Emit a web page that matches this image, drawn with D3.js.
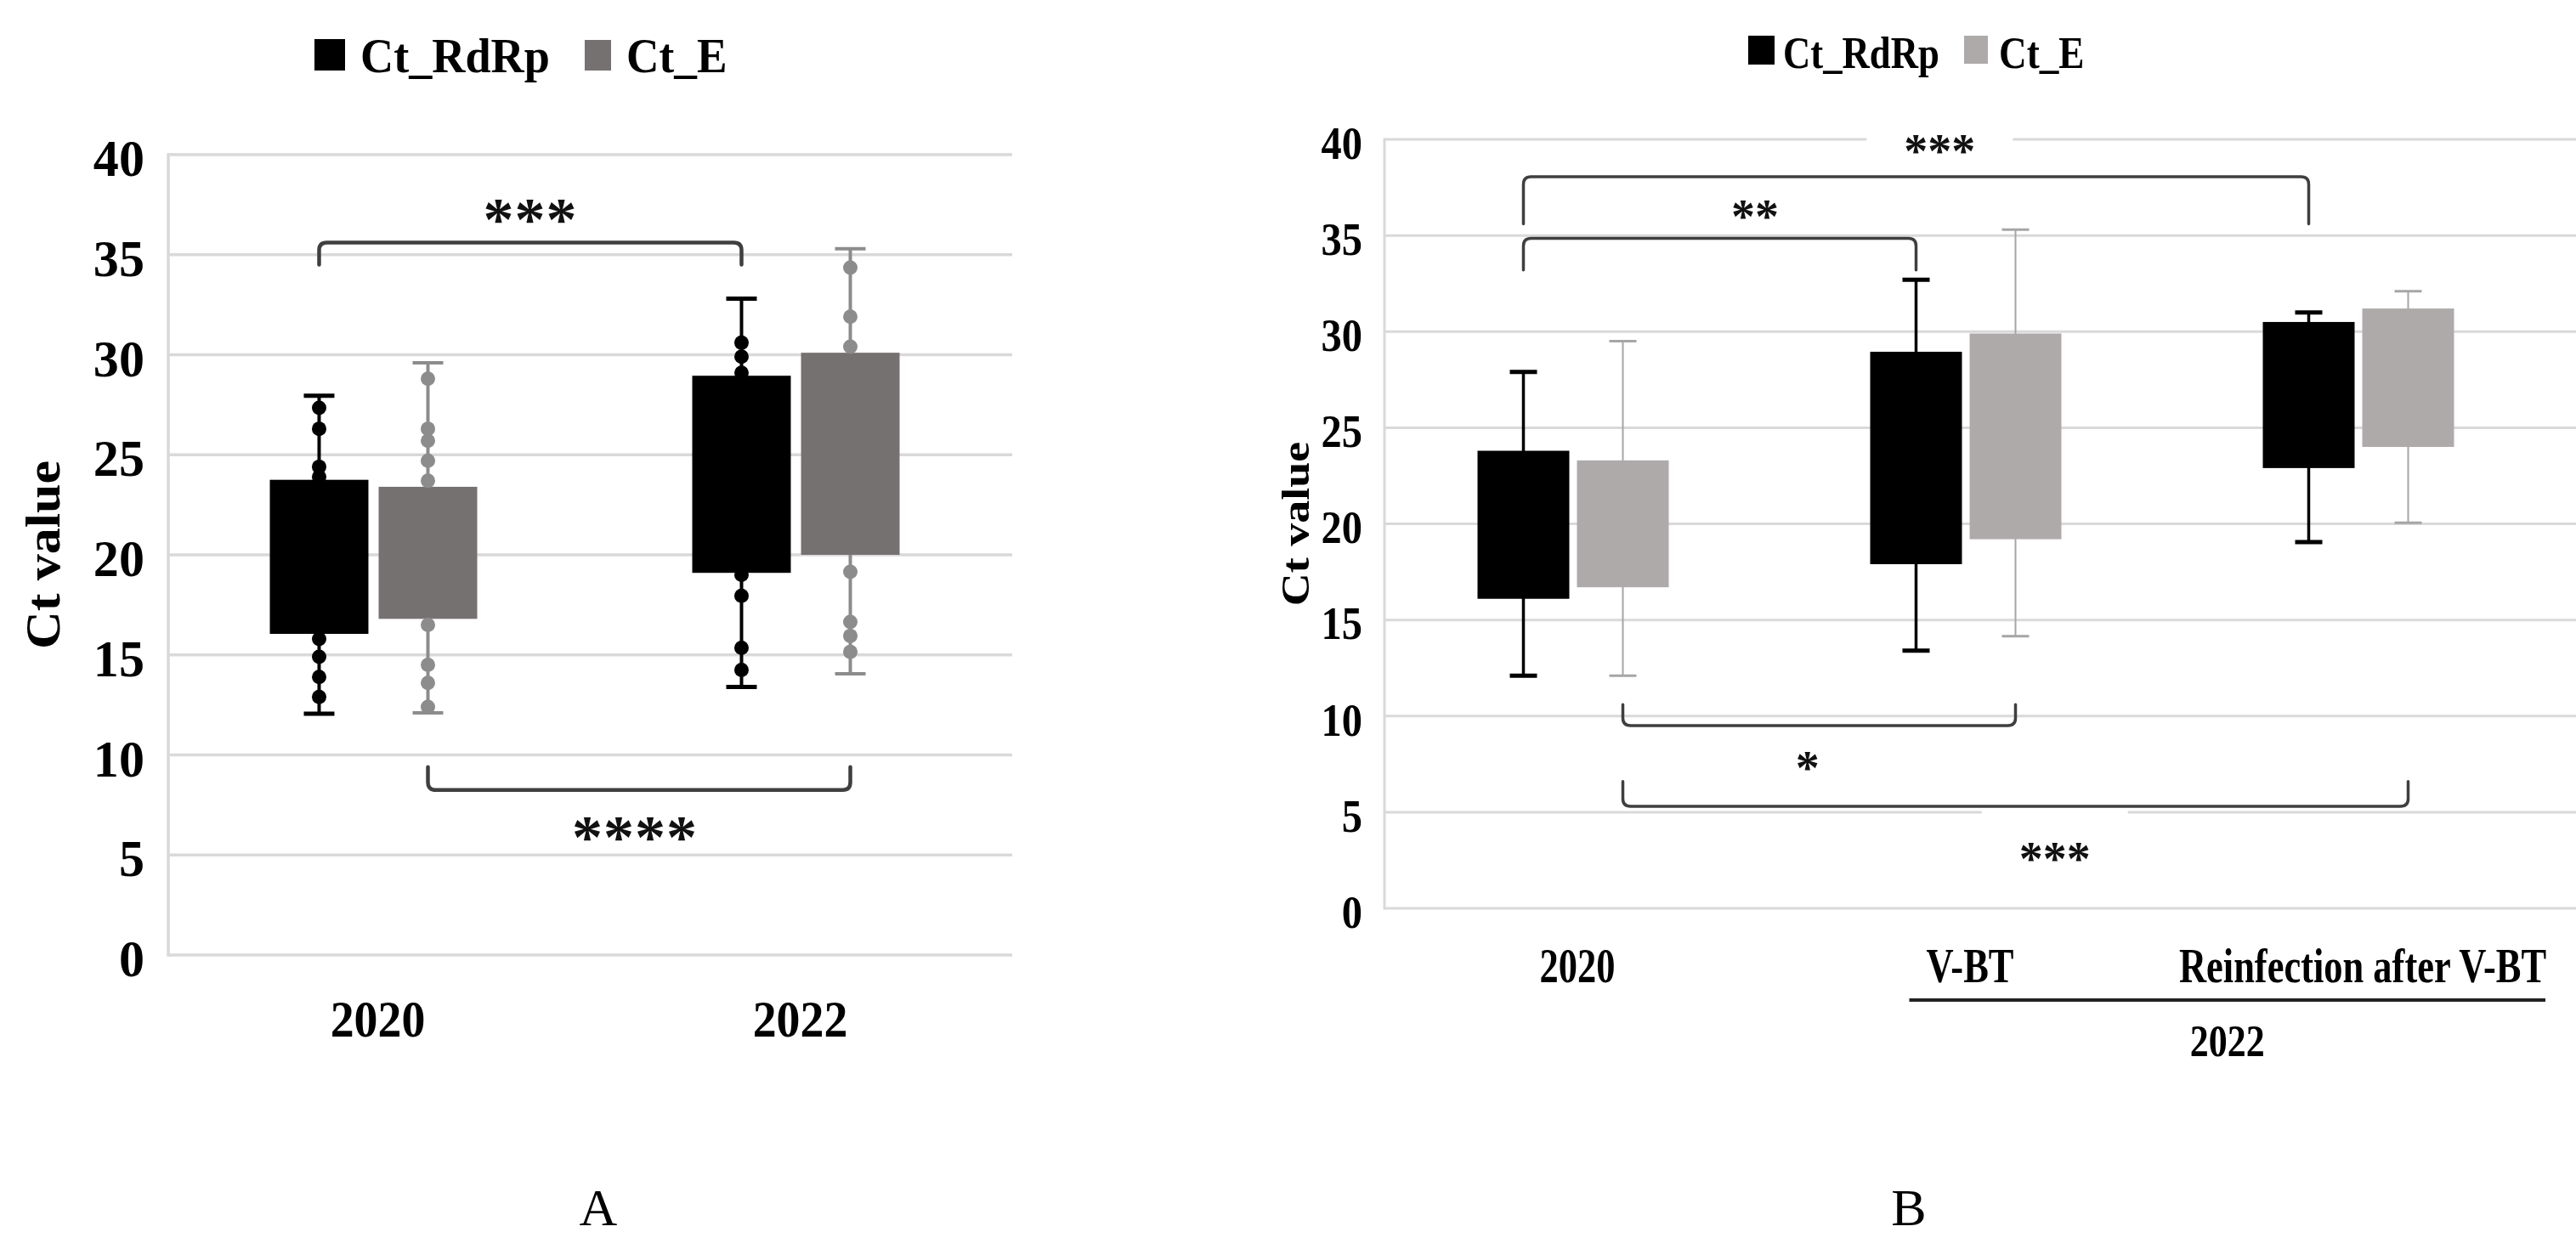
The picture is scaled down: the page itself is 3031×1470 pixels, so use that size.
<!DOCTYPE html>
<html><head><meta charset="utf-8">
<script src="https://cdn.jsdelivr.net/npm/d3@7/dist/d3.min.js"></script>
<style>html,body{margin:0;padding:0;background:#fff;} svg{display:block;}</style>
</head><body>
<svg id="chart" width="3031" height="1470"></svg>
<script>
// ---------------- DATA ----------------
const seriesNames = ["Ct_RdRp", "Ct_E"];
const categoriesA = ["2020", "2022"];
const categoriesB = ["2020", "V-BT", "Reinfection after V-BT"];
const groupLabelB = "2022";
const yTickValues = [0, 5, 10, 15, 20, 25, 30, 35, 40];
const panelLabels = ["A", "B"];

// Panel A : whisker min / lower box edge / upper box edge / whisker max
const boxA_RdRp = [
  {min: 12.06, q1: 16.05, q3: 23.75, max: 27.95},
  {min: 13.4,  q1: 19.1,  q3: 28.95, max: 32.8}
];
const boxA_E = [
  {min: 12.1,  q1: 16.8,  q3: 23.4,  max: 29.6},
  {min: 14.05, q1: 20.0,  q3: 30.1,  max: 35.3}
];
const dotsA_RdRp = [
  [27.35, 26.3, 24.4, 23.9, 15.8, 14.9, 13.9, 12.9],
  [30.6, 29.9, 29.1, 19.0, 17.95, 15.35, 14.25]
];
const dotsA_E = [
  [28.8, 26.3, 25.7, 24.7, 23.7, 16.5, 14.5, 13.6, 12.4],
  [34.35, 31.9, 30.4, 19.15, 16.65, 15.95, 15.15]
];

// Panel B
const boxB_RdRp = [
  {min: 12.1,  q1: 16.1, q3: 23.8,  max: 27.9},
  {min: 13.4,  q1: 17.9, q3: 28.95, max: 32.7},
  {min: 19.05, q1: 22.9, q3: 30.5,  max: 31.0}
];
const boxB_E = [
  {min: 12.1,  q1: 16.7, q3: 23.3, max: 29.5},
  {min: 14.15, q1: 19.2, q3: 29.9, max: 35.3},
  {min: 20.05, q1: 24.0, q3: 31.2, max: 32.1}
];

// significance brackets (values in Ct units)
const bracketsA = [
  {a: ["2020", "Ct_RdRp"], b: ["2022", "Ct_RdRp"], bar: 35.6, tip: 34.5, label: "***",  labelAt: 37.2, frac: 0.5},
  {a: ["2020", "Ct_E"],    b: ["2022", "Ct_E"],    bar: 8.25, tip: 9.4,  label: "****", labelAt: 6.3,  frac: 0.49}
];
const bracketsB = [
  {a: ["2020", "Ct_RdRp"], b: ["Reinfection after V-BT", "Ct_RdRp"], bar: 38.05, tip: 35.6, label: "***", labelAt: 39.7, frac: 0.53, knockout: true},
  {a: ["2020", "Ct_RdRp"], b: ["V-BT", "Ct_RdRp"], bar: 34.85, tip: 33.2, label: "**",  labelAt: 36.3, frac: 0.59},
  {a: ["2020", "Ct_E"],    b: ["V-BT", "Ct_E"],    bar: 9.5,   tip: 10.6, label: "*",   labelAt: 7.6,  frac: 0.47},
  {a: ["2020", "Ct_E"],    b: ["Reinfection after V-BT", "Ct_E"], bar: 5.3, tip: 6.6, label: "***", labelAt: 2.9, frac: 0.55, knockout: true}
];

// ---------------- DRAWING ----------------
const SERIF = "'Liberation Serif','Times New Roman',Times,serif";
const svg = d3.select("#chart");
svg.append("rect").attr("width", 3031).attr("height", 1470).attr("fill", "#fff");

function txt(g, x, y, s, o) {
  const t = g.append("text")
    .attr("transform", `translate(${x},${y}) scale(${o.sx || 1},1)` + (o.rot ? ` rotate(${o.rot})` : ""))
    .attr("text-anchor", o.anchor || "start")
    .style("font-family", SERIF)
    .style("font-weight", o.weight || "bold")
    .style("font-size", o.size + "px")
    .attr("fill", o.fill || "#000")
    .text(s);
  if (o.ls) t.style("letter-spacing", o.ls + "px");
  return t;
}

function drawPanel(c) {
  const g = svg.append("g");
  const y = d3.scaleLinear().domain([0, 40]).range([c.y0, c.y40]);
  const x0 = d3.scaleBand().domain(c.categories).range(c.xRange);
  const x1 = d3.scaleBand().domain(seriesNames).range([-c.groupW / 2, c.groupW / 2]).paddingInner(c.pad);
  const gc = cat => x0(cat) + x0.bandwidth() / 2;
  const cx = (cat, s) => gc(cat) + x1(s) + x1.bandwidth() / 2;

  // gridlines
  g.append("g").selectAll("line").data(yTickValues).join("line")
    .attr("x1", c.plotL).attr("x2", c.plotR)
    .attr("y1", d => y(d)).attr("y2", d => y(d))
    .attr("stroke", "#D9D9D9").attr("stroke-width", c.gridW);
  g.append("line").attr("x1", c.plotL).attr("x2", c.plotL)
    .attr("y1", y(0) + c.gridW / 2).attr("y2", y(40) - c.gridW / 2)
    .attr("stroke", "#D9D9D9").attr("stroke-width", c.gridW);

  // y axis labels
  const ax = g.append("g").attr("transform", `translate(${c.plotL},0)`)
    .call(d3.axisLeft(y).tickValues(yTickValues).tickSize(0).tickPadding(0).tickFormat(d3.format("d")));
  ax.select(".domain").remove();
  ax.selectAll("text")
    .attr("x", 0).attr("dy", "0.35em")
    .attr("transform", `translate(${-c.tickPad},${c.tickDy}) scale(${c.tickSx},1)`)
    .attr("text-anchor", "end").attr("fill", "#000")
    .style("font-family", SERIF).style("font-weight", "bold").style("font-size", c.tickSize + "px");

  // y title
  txt(g, c.titleX, (y(0) + y(40)) / 2, "Ct value", {size: c.titleSize, sx: c.titleSx, rot: -90, anchor: "middle"});

  // knockout boxes behind some labels
  c.brackets.filter(b => b.knockout).forEach(b => {
    const xa = cx(b.a[0], b.a[1]), xb = cx(b.b[0], b.b[1]);
    const lx = xa + (xb - xa) * b.frac;
    g.append("rect").attr("x", lx - 86).attr("y", y(b.labelAt) - 55).attr("width", 172).attr("height", 110).attr("fill", "#fff");
  });

  // boxes
  seriesNames.forEach((s, si) => {
    const st = c.stats[si];
    const gs = g.append("g");
    gs.selectAll("line.wh").data(st).join("line").attr("class", "wh")
      .attr("x1", (d, i) => cx(c.categories[i], s)).attr("x2", (d, i) => cx(c.categories[i], s))
      .attr("y1", d => y(d.min)).attr("y2", d => y(d.max))
      .attr("stroke", c.whColors[si]).attr("stroke-width", c.whW[si]);
    ["min", "max"].forEach(k => {
      gs.selectAll("line.cap" + k).data(st).join("line").attr("class", "cap" + k)
        .attr("x1", (d, i) => cx(c.categories[i], s) - c.capW / 2).attr("x2", (d, i) => cx(c.categories[i], s) + c.capW / 2)
        .attr("y1", d => y(d[k])).attr("y2", d => y(d[k]))
        .attr("stroke", c.whColors[si]).attr("stroke-width", c.capT[si]);
    });
    gs.selectAll("rect").data(st).join("rect")
      .attr("x", (d, i) => x0(c.categories[i]) + x0.bandwidth() / 2 + x1(s))
      .attr("width", x1.bandwidth())
      .attr("y", d => y(d.q3)).attr("height", d => y(d.q1) - y(d.q3))
      .attr("fill", c.colors[si]);
    if (c.dots) {
      const flat = [];
      c.dots[si].forEach((arr, i) => arr.forEach(v => flat.push({cat: c.categories[i], v})));
      gs.selectAll("circle").data(flat).join("circle")
        .attr("cx", d => cx(d.cat, s)).attr("cy", d => y(d.v)).attr("r", c.dotR)
        .attr("fill", c.dotColors[si]);
    }
  });

  // brackets
  c.brackets.forEach(b => {
    const xa = cx(b.a[0], b.a[1]), xb = cx(b.b[0], b.b[1]);
    const yb = y(b.bar), yt = y(b.tip);
    const r = c.bracketR, sgn = yt > yb ? 1 : -1;
    const p = d3.path();
    p.moveTo(xa, yt);
    p.lineTo(xa, yb + sgn * r);
    p.quadraticCurveTo(xa, yb, xa + r, yb);
    p.lineTo(xb - r, yb);
    p.quadraticCurveTo(xb, yb, xb, yb + sgn * r);
    p.lineTo(xb, yt);
    g.append("path").attr("d", p.toString()).attr("fill", "none")
      .attr("stroke", "#3F3F3F").attr("stroke-width", c.bracketW).attr("stroke-linecap", "round");
    const lx = xa + (xb - xa) * b.frac;
    txt(g, lx, y(b.labelAt) + 0.47 * c.starSize, b.label, {size: c.starSize, anchor: "middle", ls: c.starLs, fill: "#111"});
  });

  // x labels
  c.categories.forEach(cat => {
    txt(g, gc(cat) + c.xlDx, c.xlY, cat, {size: c.xlSize, sx: c.xlSx, anchor: "middle"});
  });

  // legend
  c.legend.forEach((L, i) => {
    g.append("rect").attr("x", L.rx).attr("y", L.ry).attr("width", L.rw).attr("height", L.rh).attr("fill", c.colors[i]);
    txt(g, L.tx, L.ty, seriesNames[i], {size: c.legSize, sx: L.sx});
  });

  return {g, y, x0, gc, cx};
}

// Panel A
const A = drawPanel({
  categories: categoriesA, stats: [boxA_RdRp, boxA_E], dots: [dotsA_RdRp, dotsA_E],
  y0: 1124, y40: 182, xRange: [191, 1185], groupW: 244, pad: 0.094,
  plotL: 198, plotR: 1191, gridW: 3.5,
  tickPad: 28, tickDy: 3, tickSx: 0.97, tickSize: 62,
  titleX: 70, titleSize: 62, titleSx: 0.92,
  colors: ["#000000", "#767171"], whColors: ["#000000", "#8C8C8C"], whW: [4, 4], capT: [5, 4], capW: 36,
  dotR: 8.5, dotColors: ["#000000", "#8C8C8C"],
  brackets: bracketsA, bracketR: 9, bracketW: 4.5, starSize: 72, starLs: 1,
  xlDx: 5, xlY: 1220, xlSize: 62, xlSx: 0.9,
  legSize: 58,
  legend: [
    {rx: 370, ry: 46, rw: 36, rh: 37, tx: 424, ty: 85, sx: 0.935},
    {rx: 688, ry: 47, rw: 31, rh: 36, tx: 737, ty: 85, sx: 0.92}
  ]
});
txt(A.g, 704, 1442, panelLabels[0], {size: 62, weight: "normal", anchor: "middle"});

// Panel B
const B = drawPanel({
  categories: categoriesB, stats: [boxB_RdRp, boxB_E], dots: null,
  y0: 1069, y40: 164, xRange: [1620, 3006], groupW: 225, pad: 0.077,
  plotL: 1629, plotR: 3031, gridW: 3,
  tickPad: 26, tickDy: 3, tickSx: 0.88, tickSize: 55,
  titleX: 1540, titleSize: 54, titleSx: 0.85,
  colors: ["#000000", "#AEAAAA"], whColors: ["#000000", "#A6A6A6"], whW: [3.5, 2], capT: [5, 3], capW: 32,
  brackets: bracketsB, bracketR: 9, bracketW: 3.5, starSize: 56, starLs: 0,
  xlDx: 5, xlY: 1156, xlSize: 57, xlSx: 0.78,
  legSize: 52,
  legend: [
    {rx: 2057, ry: 42, rw: 31, rh: 34, tx: 2098, ty: 80, sx: 0.86},
    {rx: 2311, ry: 42, rw: 28, rh: 33, tx: 2352, ty: 80, sx: 0.87}
  ]
});
// 2022 group line and label
{
  const lineStart = B.cx("V-BT", "Ct_RdRp") - 8;
  const lineEnd = 2995;
  B.g.append("line").attr("x1", lineStart).attr("x2", lineEnd).attr("y1", 1177).attr("y2", 1177)
    .attr("stroke", "#222").attr("stroke-width", 4);
  txt(B.g, (lineStart + lineEnd) / 2, 1243, groupLabelB, {size: 53, sx: 0.83, anchor: "middle"});
}
txt(B.g, 2246, 1442, panelLabels[1], {size: 62, weight: "normal", anchor: "middle"});
</script>
</body></html>
